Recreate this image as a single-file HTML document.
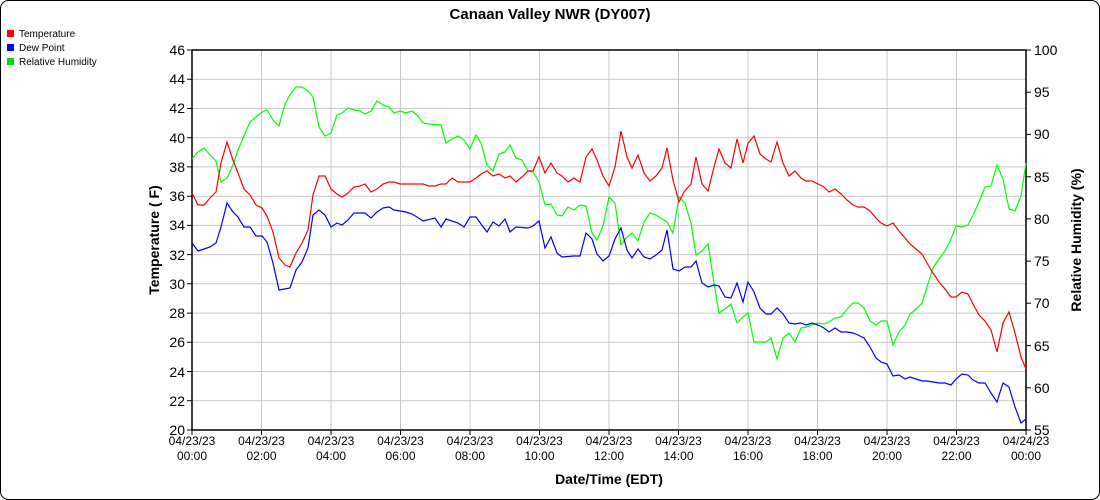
<!DOCTYPE html><html><head><style>body{margin:0;background:#fff}svg{display:block;font-family:"Liberation Sans",Arial,sans-serif}</style></head><body>
<svg width="1100" height="500" viewBox="0 0 1100 500">
<rect x="0.5" y="0.5" width="1099" height="499" rx="8" fill="#fff" stroke="#000"/>
<text x="550" y="19" font-size="15" font-weight="bold" text-anchor="middle">Canaan Valley NWR (DY007)</text>
<g font-size="10"><rect x="7" y="30" width="7" height="7" fill="#f00"/><text x="19" y="37">Temperature</text>
<rect x="7" y="44" width="7" height="7" fill="#00f"/><text x="19" y="51">Dew Point</text>
<rect x="7" y="58" width="7" height="7" fill="#0d0"/><text x="19" y="65">Relative Humidity</text></g>
<g stroke="#c8c8c8" stroke-width="1">
<path d="M192 79.2H1026M192 108.5H1026M192 137.7H1026M192 166.9H1026M192 196.2H1026M192 225.4H1026M192 254.6H1026M192 283.8H1026M192 313.1H1026M192 342.3H1026M192 371.5H1026M192 400.8H1026"/>
<path d="M261.5 50V430M331 50V430M400.5 50V430M470 50V430M539.5 50V430M609 50V430M678.5 50V430M748 50V430M817.5 50V430M887 50V430M956.5 50V430"/>
</g>
<path d="M192 50H1026M192 50V430H1026V50" fill="none" stroke="#000" stroke-width="1.5"/>
<g stroke="#000"><path d="M187 50h5M187 79.2h5M187 108.5h5M187 137.7h5M187 166.9h5M187 196.2h5M187 225.4h5M187 254.6h5M187 283.8h5M187 313.1h5M187 342.3h5M187 371.5h5M187 400.8h5M187 430h5"/>
<path d="M1026 50h5M1026 92.2h5M1026 134.4h5M1026 176.7h5M1026 218.9h5M1026 261.1h5M1026 303.3h5M1026 345.6h5M1026 387.8h5M1026 430h5"/>
<path d="M192 430v5M261.5 430v5M331 430v5M400.5 430v5M470 430v5M539.5 430v5M609 430v5M678.5 430v5M748 430v5M817.5 430v5M887 430v5M956.5 430v5M1026 430v5"/></g>
<g font-size="14" text-anchor="end"><text x="185" y="55">46</text><text x="185" y="84">44</text><text x="185" y="113">42</text><text x="185" y="143">40</text><text x="185" y="172">38</text><text x="185" y="201">36</text><text x="185" y="230">34</text><text x="185" y="260">32</text><text x="185" y="289">30</text><text x="185" y="318">28</text><text x="185" y="347">26</text><text x="185" y="377">24</text><text x="185" y="406">22</text><text x="185" y="435">20</text></g>
<g font-size="14"><text x="1034" y="55">100</text><text x="1034" y="97">95</text><text x="1034" y="139">90</text><text x="1034" y="182">85</text><text x="1034" y="224">80</text><text x="1034" y="266">75</text><text x="1034" y="308">70</text><text x="1034" y="351">65</text><text x="1034" y="393">60</text><text x="1034" y="435">55</text></g>
<g font-size="12" text-anchor="middle">
<text x="192" y="445">04/23/23</text><text x="192" y="460">00:00</text>
<text x="261.5" y="445">04/23/23</text><text x="261.5" y="460">02:00</text>
<text x="331" y="445">04/23/23</text><text x="331" y="460">04:00</text>
<text x="400.5" y="445">04/23/23</text><text x="400.5" y="460">06:00</text>
<text x="470" y="445">04/23/23</text><text x="470" y="460">08:00</text>
<text x="539.5" y="445">04/23/23</text><text x="539.5" y="460">10:00</text>
<text x="609" y="445">04/23/23</text><text x="609" y="460">12:00</text>
<text x="678.5" y="445">04/23/23</text><text x="678.5" y="460">14:00</text>
<text x="748" y="445">04/23/23</text><text x="748" y="460">16:00</text>
<text x="817.5" y="445">04/23/23</text><text x="817.5" y="460">18:00</text>
<text x="887" y="445">04/23/23</text><text x="887" y="460">20:00</text>
<text x="956.5" y="445">04/23/23</text><text x="956.5" y="460">22:00</text>
<text x="1026" y="445">04/24/23</text><text x="1026" y="460">00:00</text></g>
<text x="609" y="484" font-size="14" font-weight="bold" text-anchor="middle">Date/Time (EDT)</text>
<text transform="translate(159,240) rotate(-90)" font-size="14" font-weight="bold" text-anchor="middle">Temperature ( F)</text>
<text transform="translate(1081,240) rotate(-90)" font-size="14" font-weight="bold" text-anchor="middle">Relative Humidity (%)</text>
<g fill="none" stroke-width="1.2">
<polyline stroke="#0f0" points="192,159 198,152 204,148 210,155 216,161 221,182 227,178 233,165 238,150 244,136 250,122 256,117 262,112 267,110 273,120 279,126 285,104 290,95 296,87 302,87 308,91 313,97 319,127 325,136 331,133 337,115 342,113 348,108 354,110 360,111 365,114 371,111 377,101 383,105 389,107 394,113 400,111 406,113 412,111 417,115 423,123 429,124 441,125 446,143 452,139 458,136 464,140 470,149 476,135 481,143 487,165 493,171 499,154 505,152 510,145 516,158 522,160 528,171 533,172 539,182 545,205 551,204 557,215 562,216 568,207 574,210 580,205 586,206 592,233 597,240 603,226 609,197 615,203 621,245 627,237 632,233 638,241 644,222 650,213 656,215 662,219 667,222 673,233 679,197 685,203 691,223 696,255 702,251 708,244 714,283 719,313 725,309 731,304 737,323 743,317 748,313 754,342 760,342 766,342 771,338 777,359 783,338 789,333 795,342 801,328 806,327 812,325 818,323 824,324 829,322 835,318 841,317 847,309 853,303 858,303 864,308 870,321 876,325 881,321 887,321 893,345 899,332 905,325 910,314 916,309 922,303 927,287 933,268 939,259 945,251 951,239 956,226 962,227 968,225 973,215 979,202 985,187 991,186 997,165 1003,179 1009,209 1015,211 1021,196 1026,163"/>
<polyline stroke="#00f" points="192,243 198,251 204,249 210,247 216,243 221,227 227,203 233,212 238,217 244,227 250,227 256,236 262,236 267,242 273,263 279,290 290,288 296,270 302,262 308,248 313,215 319,210 325,215 331,227 337,223 342,225 348,220 354,213 365,213 371,218 377,212 383,208 389,207 394,210 406,212 412,214 417,217 423,221 435,218 441,227 446,219 452,221 458,223 464,227 470,217 476,217 481,224 487,232 493,222 499,226 505,219 510,232 516,227 528,228 533,226 539,221 545,248 551,237 557,253 562,257 574,256 580,256 586,233 592,239 597,254 603,261 609,256 615,239 621,228 627,250 632,258 638,249 644,257 650,259 656,255 662,250 667,230 673,269 679,271 685,267 691,267 696,261 702,283 708,287 714,285 719,286 725,297 731,298 737,283 743,302 748,282 754,292 760,308 766,314 771,314 777,308 783,314 789,323 795,324 801,323 806,325 812,323 818,325 824,328 829,332 835,328 841,332 847,332 853,333 858,335 864,338 870,347 876,358 881,362 887,364 893,376 899,375 905,379 910,377 916,379 922,381 927,381 933,382 939,383 945,383 951,385 956,379 962,374 968,375 973,380 979,383 985,383 991,393 997,402 1003,383 1009,387 1015,407 1021,423 1026,419"/>
<polyline stroke="#f00" points="192,193 198,205 204,205 210,198 216,192 221,163 227,142 233,160 238,173 244,189 250,195 256,205 262,208 267,216 273,232 279,258 285,265 290,267 296,253 302,243 308,230 313,195 319,176 325,176 331,189 337,194 342,197 348,193 354,187 360,186 365,184 371,192 377,189 383,184 389,182 394,182 400,184 423,184 429,186 435,186 441,184 446,184 452,178 458,182 470,182 476,178 481,174 487,171 493,176 499,174 505,178 510,176 516,182 522,177 528,171 533,171 539,157 545,173 551,163 557,173 562,176 568,182 574,178 580,182 586,157 592,149 597,160 603,176 609,186 615,167 621,131 627,157 632,168 638,155 644,173 650,181 656,176 662,168 667,148 673,180 679,202 684,192 691,184 696,157 702,184 708,191 714,167 719,149 725,163 731,168 737,139 743,163 748,143 754,136 760,154 766,159 771,162 777,142 783,163 789,176 795,171 801,178 806,181 812,181 818,184 824,187 829,192 835,189 841,194 847,200 853,205 858,207 864,207 870,211 876,218 881,223 887,226 893,223 899,231 905,238 910,244 916,249 922,254 927,263 933,273 939,282 945,289 951,297 956,297 962,292 968,294 973,304 979,315 985,321 991,330 997,352 1003,323 1009,312 1015,333 1021,357 1026,369"/>
</g>
</svg></body></html>
